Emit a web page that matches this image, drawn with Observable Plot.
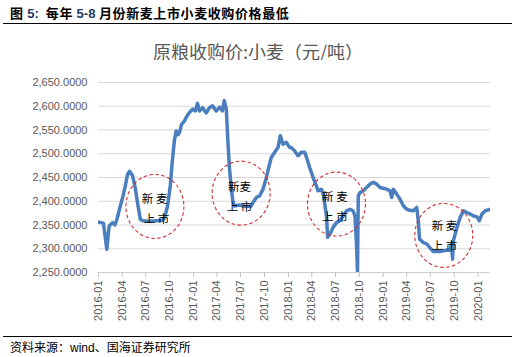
<!DOCTYPE html>
<html><head><meta charset="utf-8">
<script src="https://cdn.jsdelivr.net/npm/d3@7"></script>
<script src="https://cdn.jsdelivr.net/npm/@observablehq/plot@0.6"></script>
<style>
html,body{margin:0;padding:0;background:#fff;}
body{width:516px;height:357px;position:relative;overflow:hidden;font-family:"Liberation Sans",Arial,"Noto Sans CJK SC",sans-serif;}
#title{position:absolute;left:10px;top:5px;font-size:13px;line-height:16px;font-weight:bold;color:#000;font-family:"Noto Sans CJK SC",sans-serif;white-space:nowrap;letter-spacing:0.6px;}
#title .n{color:#1f3864;font-family:"Liberation Sans",Arial,sans-serif;letter-spacing:0;}
.rule{position:absolute;left:3px;width:509px;height:1.5px;background:#000;}
#ctitle{position:absolute;left:0;width:516px;top:40px;text-align:center;font-size:18px;line-height:22px;color:#595959;font-family:"Noto Sans CJK SC",sans-serif;white-space:nowrap;}
#chart{position:absolute;left:0;top:60px;}
#foot{position:absolute;left:10px;top:340px;font-size:12px;line-height:14px;color:#000;font-family:"Noto Sans CJK SC",sans-serif;white-space:nowrap;}
#foot .l{font-family:"Liberation Sans",Arial,sans-serif;}
</style>
</head><body>
<div id="title">图 <span class="n">5:</span>&nbsp; 每年 <span class="n">5-8</span> 月份新麦上市小麦收购价格最低</div>
<div class="rule" style="top:22.5px"></div>
<div id="ctitle">原粮收购价:小麦（元/吨）</div>
<div id="chart"></div>
<div class="rule" style="top:335.5px"></div>
<div id="foot">资料来源：<span class="l">wind</span>、国海证券研究所</div>
<script>
// ---- data ----
const dates = [
"2016-01-01","2016-01-20","2016-02-02","2016-02-11","2016-02-24","2016-03-04","2016-03-12","2016-03-25",
"2016-04-03","2016-04-12","2016-04-22","2016-04-29","2016-05-11","2016-05-21","2016-05-31","2016-06-10",
"2016-06-19","2016-07-15","2016-08-11","2016-09-03","2016-09-11","2016-09-23","2016-10-04","2016-10-10",
"2016-10-19","2016-10-26","2016-11-02","2016-11-08","2016-11-16","2016-11-27","2016-12-03","2016-12-16",
"2016-12-29","2017-01-08","2017-01-16","2017-01-24","2017-02-05","2017-02-19","2017-03-03","2017-03-15",
"2017-03-29","2017-04-11","2017-04-22","2017-04-29","2017-05-07","2017-05-13","2017-05-19","2017-05-26",
"2017-06-01","2017-06-08","2017-06-27","2017-07-20","2017-08-11","2017-08-17","2017-08-31","2017-09-12",
"2017-09-25","2017-10-06","2017-10-14","2017-10-27","2017-11-09","2017-11-22","2017-12-01","2017-12-11",
"2017-12-24","2018-01-06","2018-01-13","2018-01-25","2018-02-07","2018-02-20","2018-03-05","2018-03-12",
"2018-03-24","2018-04-06","2018-04-19","2018-04-25","2018-05-08","2018-05-15","2018-05-21","2018-05-28",
"2018-06-01","2018-06-10","2018-06-22","2018-07-05","2018-07-18","2018-07-31","2018-08-13","2018-08-26",
"2018-09-07","2018-09-14","2018-09-21","2018-09-24","2018-09-27","2018-10-03","2018-10-16","2018-10-29",
"2018-11-11","2018-11-24","2018-12-07","2018-12-20","2019-01-04","2019-01-16","2019-01-27","2019-02-03",
"2019-02-09","2019-02-22","2019-03-07","2019-03-20","2019-04-02","2019-04-14","2019-04-27","2019-05-10",
"2019-05-16","2019-05-21","2019-06-05","2019-06-18","2019-07-01","2019-07-13","2019-07-26","2019-08-08",
"2019-08-21","2019-09-03","2019-09-16","2019-09-21","2019-09-25","2019-09-28","2019-10-05","2019-10-12",
"2019-10-24","2019-11-06","2019-11-19","2019-12-02","2019-12-15","2019-12-28","2020-01-06","2020-01-16",
"2020-01-29","2020-02-17"];
const prices = [
2356,2354,2299,2348,2355,2350,2362,2390,
2408,2429,2457,2463,2454,2429,2394,2362,
2359,2358,2359,2360,2365,2390,2436,2478,
2527,2548,2540,2545,2562,2569,2576,2587,
2594,2590,2606,2590,2597,2586,2597,2601,
2590,2598,2590,2612,2594,2527,2471,2429,
2401,2390,2392,2389,2390,2397,2408,2411,
2425,2445,2464,2492,2503,2513,2538,2520,
2524,2513,2513,2506,2496,2503,2503,2492,
2471,2450,2432,2422,2425,2415,2394,2366,
2324,2331,2345,2355,2359,2369,2380,2383,
2380,2369,2300,2250,2411,2418,2422,2429,
2436,2440,2436,2429,2427,2425,2422,2408,
2425,2415,2404,2390,2383,2381,2380,2387,
2359,2320,2313,2310,2301,2294,2294,2294,
2296,2297,2297,2310,2278,2317,2331,2345,
2366,2380,2376,2373,2369,2367,2359,2373,
2380,2383];
const xTickLabels = ["2016-01","2016-04","2016-07","2016-10","2017-01","2017-04","2017-07","2017-10",
"2018-01","2018-04","2018-07","2018-10","2019-01","2019-04","2019-07","2019-10","2020-01"];
const yTicks = [2250,2300,2350,2400,2450,2500,2550,2600,2650];
const circleDates = ["2016-08-07","2017-07-05","2018-07-07","2019-08-24"];
const circleValues = [2388,2416,2393,2327];
const noteTexts = ["新 麦","上 市","新麦","上 市","新 麦","上 市","新 麦","上 市"];
const noteDates = ["2016-08-04","2016-08-11","2017-06-27","2017-06-27","2018-06-29","2018-06-29","2019-08-25","2019-08-25"];
const noteValues = [2404,2362,2429,2387,2408,2366,2348,2306];
const xStart = "2016-01-01", xEnd = "2020-02-18";

// ---- build ----
const P = d => new Date(d + (d.length === 7 ? "-01" : "") + "T00:00:00Z");
const series = dates.map((d, i) => ({date: P(d), value: prices[i]}));
const circles = circleDates.map((d, i) => ({date: P(d), value: circleValues[i]}));
const notes = noteDates.map((d, i) => ({date: P(d), value: noteValues[i], text: noteTexts[i]}));
const xTicks = xTickLabels.map(P);

const ellipse = (data, opts) => Plot.dot(data, {
  x: "date", y: "value", r: 30,
  render: (index, scales, values) => {
    const g = d3.create("svg:g");
    for (const i of index) {
      g.append("ellipse")
        .attr("cx", values.x[i]).attr("cy", values.y[i])
        .attr("rx", opts.rx).attr("ry", opts.ry)
        .attr("fill", "none").attr("stroke", "#d32f2f")
        .attr("stroke-width", 1.1).attr("stroke-dasharray", "3.5,2.5");
    }
    return g.node();
  }
});

const chart = Plot.plot({
  width: 516, height: 270,
  marginLeft: 98, marginRight: 26, marginTop: 22, marginBottom: 58,
  style: {fontFamily: '"Liberation Sans", Arial, sans-serif', fontSize: "11px", color: "#595959", background: "#fff"},
  x: {type: "utc", domain: [P(xStart), P(xEnd)]},
  y: {domain: [2250, 2650]},
  marks: [
    Plot.ruleY(yTicks.slice(1), {stroke: "#d9d9d9", strokeWidth: 1, strokeOpacity: 1}),
    Plot.ruleY([2250], {stroke: "#d0d0d0", strokeWidth: 1, strokeOpacity: 1}),
    Plot.axisY({ticks: yTicks, tickFormat: d3.format(",.4f"), tickSize: 0, tickPadding: 11, label: null, fill: "#595959"}),
    Plot.axisX({ticks: xTicks, tickFormat: d3.utcFormat("%Y-%m"), tickRotate: -90, tickSize: 5, tickPadding: 3, stroke: "#bfbfbf", label: null, fill: "#595959"}),
    Plot.line(series, {x: "date", y: "value", stroke: "#4a7ebf", strokeWidth: 3.5, strokeLinejoin: "round", clip: true}),
    ellipse(circles, {rx: 29, ry: 32}),
    Plot.text(notes, {x: "date", y: "value", text: "text", fontSize: 11.5, fill: "#000", fontFamily: '"Noto Sans CJK SC", sans-serif'})
  ]
});
document.getElementById("chart").appendChild(chart);
</script>
</body></html>
